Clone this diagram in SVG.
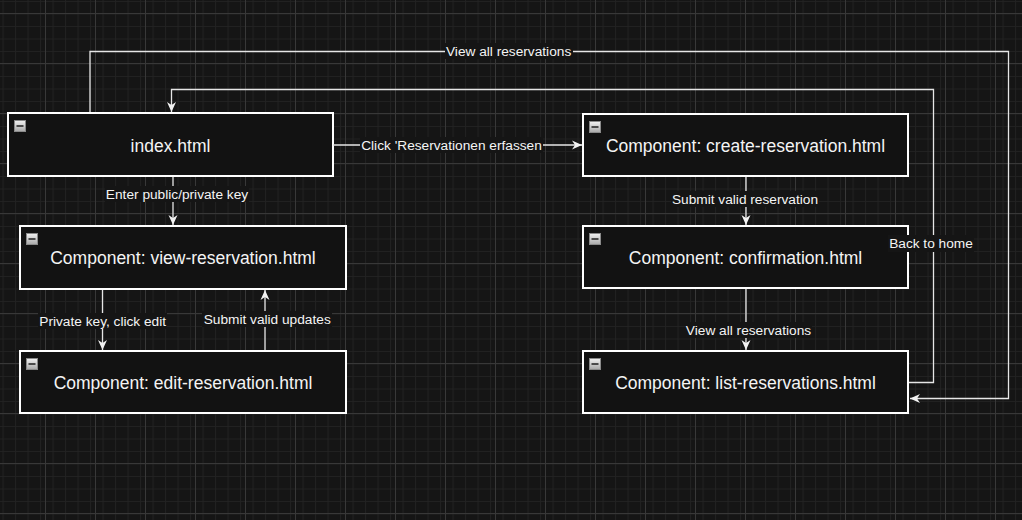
<svg xmlns="http://www.w3.org/2000/svg" width="1022" height="520" viewBox="0 0 1022 520">
<style>
.node rect.box{fill:#121212;stroke:#ffffff;stroke-width:2}
.node text{font-family:"Liberation Sans",Arial,sans-serif;font-size:17.5px;fill:#f4f4f4;text-anchor:middle}
.edge{fill:none;stroke:#e6e6e6;stroke-width:1.3}
.lbg{fill:#151515}
.lbl{font-family:"Liberation Sans",Arial,sans-serif;font-size:13.7px;fill:#f4f4f4;text-anchor:middle}
.ico{fill:url(#icoGrad);stroke:#8a8a8a;stroke-width:1}
.icm{stroke:#2a2a2a;stroke-width:1.6}
</style>
<defs>
<pattern id="minor" x="45" y="13" width="12.5" height="12.5" patternUnits="userSpaceOnUse">
<path d="M0.5 0V12.5M0 0.5H12.5" stroke="#222222" stroke-width="1" fill="none"/>
</pattern>
<pattern id="major" x="45" y="13" width="50" height="50" patternUnits="userSpaceOnUse">
<rect width="50" height="50" fill="url(#minor)"/>
<path d="M0.5 0V50M0 0.5H50" stroke="#383838" stroke-width="1" fill="none"/>
</pattern>
<linearGradient id="icoGrad" x1="0" y1="0" x2="0" y2="1">
<stop offset="0" stop-color="#f2f2f2"/>
<stop offset="1" stop-color="#a8a8a8"/>
</linearGradient>
<marker id="arr" viewBox="0 0 10 10" refX="10" refY="5" markerWidth="10" markerHeight="10" markerUnits="userSpaceOnUse" orient="auto">
<path d="M0,0.5L10,5L0,9.5L3,5Z" fill="#f2f2f2"/>
</marker>
<g id="icon">
<rect class="ico" x="0.5" y="0.5" width="11" height="11"/>
<path class="icm" d="M2.5 6H9.5"/>
</g>
</defs>
<rect width="1022" height="520" fill="#151515"/>
<rect width="1022" height="520" fill="url(#major)"/>

<g id="node-index" class="node">
<rect class="box" x="8" y="113" width="325" height="63"/>
<use href="#icon" x="14" y="120"/>
<text x="170.5" y="152">index.html</text>
</g>
<g id="node-view" class="node">
<rect class="box" x="20" y="226" width="326" height="63"/>
<use href="#icon" x="26" y="233"/>
<text x="183" y="264">Component: view-reservation.html</text>
</g>
<g id="node-edit" class="node">
<rect class="box" x="20" y="351" width="326" height="62"/>
<use href="#icon" x="26" y="358"/>
<text x="183" y="388.5">Component: edit-reservation.html</text>
</g>
<g id="node-create" class="node">
<rect class="box" x="583" y="114" width="325" height="62"/>
<use href="#icon" x="589" y="121"/>
<text x="745.5" y="151.5">Component: create-reservation.html</text>
</g>
<g id="node-confirmation" class="node">
<rect class="box" x="583" y="226" width="325" height="62"/>
<use href="#icon" x="589" y="233"/>
<text x="745.5" y="263.5">Component: confirmation.html</text>
</g>
<g id="node-list" class="node">
<rect class="box" x="583" y="351" width="325" height="62"/>
<use href="#icon" x="589" y="358"/>
<text x="745.5" y="388.5">Component: list-reservations.html</text>
</g>

<g id="connectors">
<path class="edge" d="M333,145H582" marker-end="url(#arr)"/>
<path class="edge" d="M173,177V225" marker-end="url(#arr)"/>
<path class="edge" d="M102.5,290V350" marker-end="url(#arr)"/>
<path class="edge" d="M265,350V290" marker-end="url(#arr)"/>
<path class="edge" d="M746,177V225" marker-end="url(#arr)"/>
<path class="edge" d="M746,289V350" marker-end="url(#arr)"/>
<path class="edge" d="M909,382.5H933.5V89.5H171.5V112" marker-end="url(#arr)"/>
<path class="edge" d="M90,112V51.5H1008.5V398.5H910" marker-end="url(#arr)"/>

<rect class="lbg" x="360" y="137" width="183" height="16"/>
<text class="lbl" x="451.5" y="149.5">Click 'Reservationen erfassen</text>
<rect class="lbg" x="105" y="186" width="144" height="16"/>
<text class="lbl" x="177" y="199">Enter public/private key</text>
<rect class="lbg" x="38" y="313" width="129" height="16"/>
<text class="lbl" x="102.7" y="325.7">Private key, click edit</text>
<rect class="lbg" x="202" y="311" width="130" height="16"/>
<text class="lbl" x="267.2" y="324">Submit valid updates</text>
<rect class="lbg" x="671" y="191" width="148" height="16"/>
<text class="lbl" x="745" y="204">Submit valid reservation</text>
<rect class="lbg" x="685" y="322" width="127" height="16"/>
<text class="lbl" x="748.5" y="335">View all reservations</text>
<rect class="lbg" x="888" y="235" width="86" height="17"/>
<text class="lbl" x="931" y="248.3">Back to home</text>
<rect class="lbg" x="445" y="43" width="128" height="16"/>
<text class="lbl" x="508.6" y="55.5">View all reservations</text>
</g>
</svg>
